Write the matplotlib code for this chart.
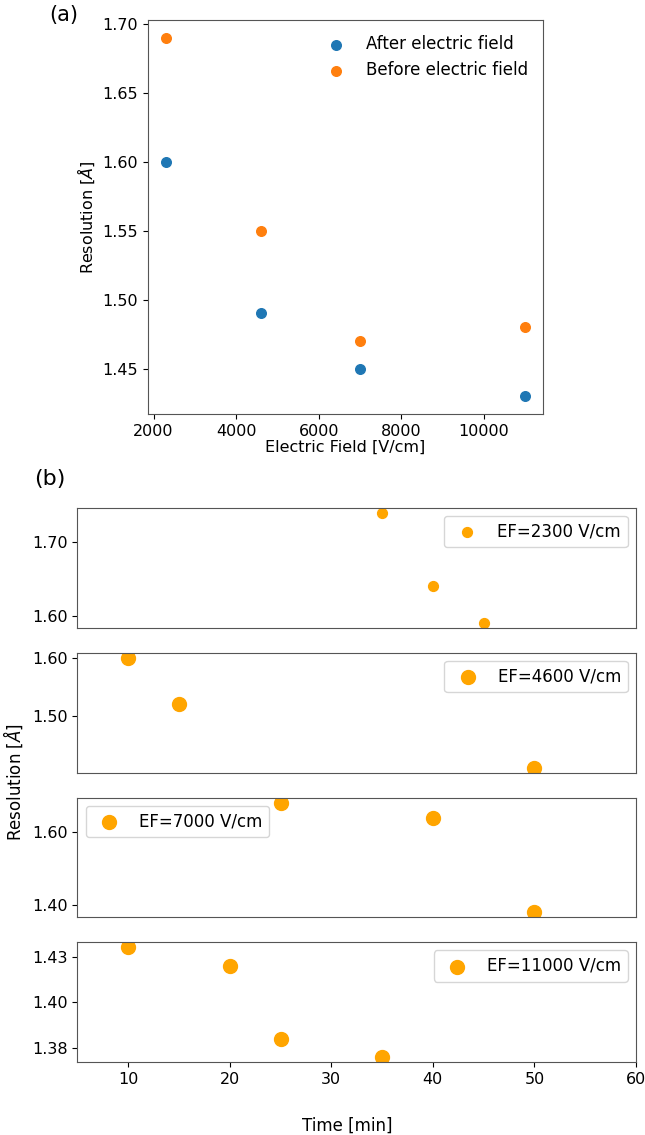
import matplotlib.pyplot as plt
from matplotlib.ticker import MaxNLocator, FormatStrFormatter

# panel (a)
field = [2300, 4600, 7000, 11000]
res_after = [1.60, 1.49, 1.45, 1.43]
res_before = [1.69, 1.55, 1.47, 1.48]

# panel (b): resolution vs time for each field
ef_labels = ['EF=2300 V/cm', 'EF=4600 V/cm', 'EF=7000 V/cm', 'EF=11000 V/cm']
t_2300 = [35, 40, 45]
r_2300 = [1.74, 1.64, 1.59]
t_4600 = [10, 15, 50]
r_4600 = [1.60, 1.52, 1.41]
t_7000 = [25, 40, 50]
r_7000 = [1.68, 1.64, 1.38]
t_11000 = [10, 20, 25, 35]
r_11000 = [1.43, 1.42, 1.38, 1.37]

W, H = 645, 1135
fig = plt.figure(figsize=(W / 100, H / 100), dpi=100)

def box(left, top, right, bottom):
    return [left / W, 1 - bottom / H, (right - left) / W, (bottom - top) / H]

ylab = r'Resolution [$\AA$]'

ax = fig.add_axes(box(148, 20, 543, 414))
ax.scatter(field, res_after, s=48, color='tab:blue', label='After electric field')
ax.scatter(field, res_before, s=48, color='tab:orange', label='Before electric field')
ax.set_xlabel('Electric Field [V/cm]', fontsize=11.5, labelpad=1)
ax.set_ylabel(ylab, fontsize=11.5)
ax.tick_params(labelsize=11.5)
ax.legend(frameon=False, fontsize=12, loc='upper right')
for sp in ax.spines.values():
    sp.set_color('#555555')
fig.text(49 / W, 1 - 15 / H, '(a)', fontsize=15, va='center')

# panel (b)
tops = [507.7, 652.7, 797.7, 942]
bottoms = [628.3, 773.3, 917.3, 1062.3]
times = [t_2300, t_4600, t_7000, t_11000]
vals = [r_2300, r_4600, r_7000, r_11000]
sizes = [50, 100, 100, 100]
locs = ['upper right', 'upper right', 'upper left', 'upper right']

for i in range(4):
    a = fig.add_axes(box(77.4, tops[i], 636, bottoms[i]))
    a.scatter(times[i], vals[i], s=sizes[i], color='orange', label=ef_labels[i])
    a.set_xlim(5, 60)
    a.yaxis.set_major_locator(MaxNLocator(nbins=3, steps=[1, 2, 2.5, 5, 10]))
    a.yaxis.set_major_formatter(FormatStrFormatter('%.2f'))
    a.tick_params(labelsize=11.5)
    if i < 3:
        a.set_xticks([])
    a.legend(loc=locs[i], fontsize=12)
    for sp in a.spines.values():
        sp.set_color('#555555')

fig.text(13 / W, 1 - 782 / H, ylab, rotation=90, fontsize=12, ha='center', va='center')
fig.text(347 / W, 1 - 1126 / H, 'Time [min]', fontsize=12, ha='center', va='center')
fig.text(34 / W, 1 - 479 / H, '(b)', fontsize=16, va='center')

fig.savefig('out.png', dpi=100)
